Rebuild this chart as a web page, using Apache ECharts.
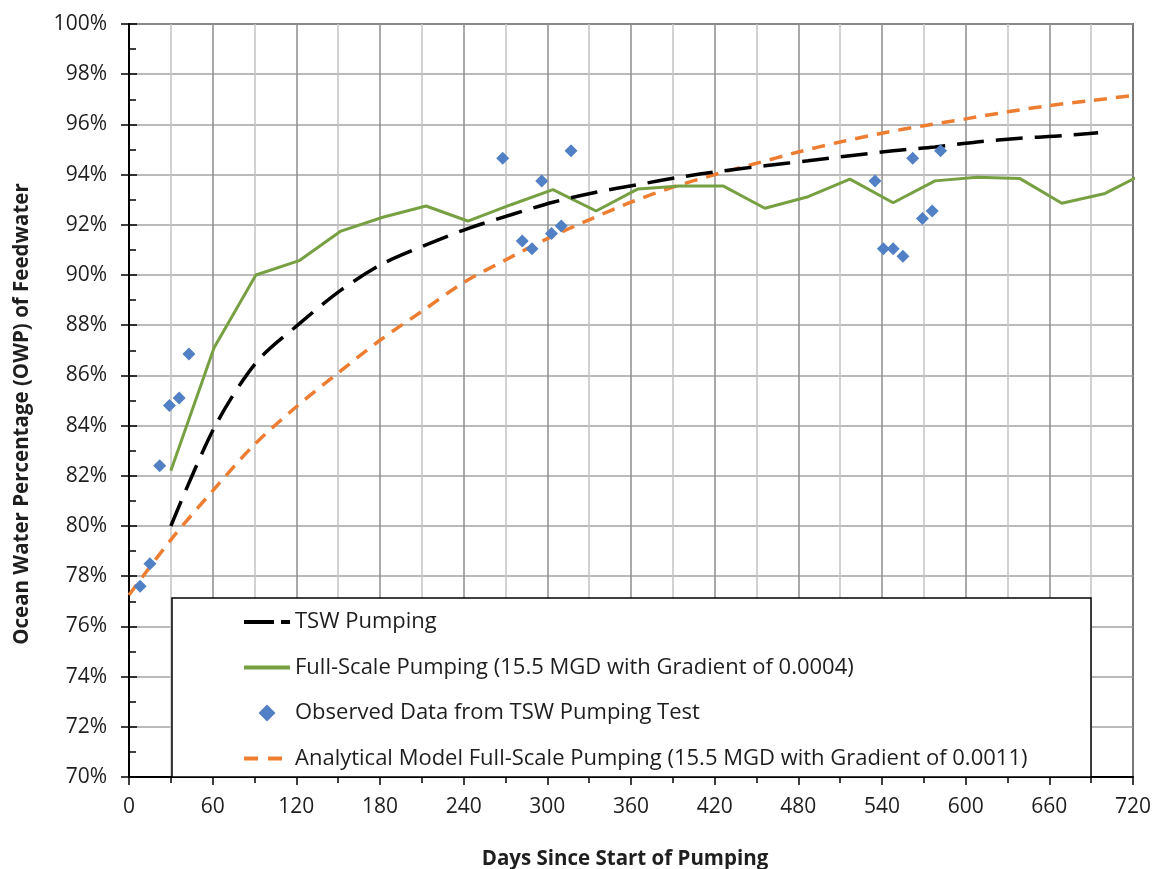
<!DOCTYPE html>
<html>
<head>
<meta charset="utf-8">
<title>Ocean Water Percentage of Feedwater</title>
<script src="https://cdn.jsdelivr.net/npm/echarts@6/dist/echarts.min.js"></script>
<style>
  html, body { margin: 0; padding: 0; background: #fff; }
  #chart { width: 1154px; height: 869px; }
</style>
</head>
<body>
<div id="chart"></div>
<script>
// Days since start of pumping / OWP (%) for each series
const tswDays = [30, 61, 91, 122, 152, 182, 213, 243, 274, 304, 335, 365, 395, 426, 456, 487, 517, 548, 578, 608, 639, 669, 695];
const tswOwp  = [80.0, 83.9, 86.5, 88.05, 89.4, 90.45, 91.2, 91.85, 92.4, 92.9, 93.3, 93.6, 93.9, 94.15, 94.35, 94.55, 94.75, 94.95, 95.1, 95.3, 95.45, 95.55, 95.67];

const fullDays = [30, 61, 91, 122, 152, 182, 213, 243, 274, 304, 335, 365, 395, 426, 456, 487, 517, 548, 578, 608, 639, 669, 700, 730];
const fullOwp  = [82.2, 87.1, 90.0, 90.57, 91.75, 92.3, 92.75, 92.15, 92.8, 93.4, 92.55, 93.43, 93.55, 93.55, 92.66, 93.12, 93.82, 92.88, 93.75, 93.89, 93.84, 92.86, 93.25, 94.1];

const obsDays = [8, 15, 22, 29, 36, 43, 268, 282, 289, 296, 303, 310, 317, 535, 541, 548, 555, 562, 569, 576, 582];
const obsOwp  = [77.6, 78.5, 82.4, 84.8, 85.1, 86.85, 94.65, 91.35, 91.05, 93.75, 91.65, 91.95, 94.95, 93.75, 91.05, 91.05, 90.75, 94.65, 92.25, 92.55, 94.95];

const anaDays = [0, 30, 60, 90, 120, 150, 180, 210, 240, 270, 300, 330, 360, 390, 420, 450, 480, 510, 540, 570, 600, 630, 660, 690, 720];
const anaOwp  = [77.25, 79.45, 81.4, 83.25, 84.75, 86.1, 87.4, 88.55, 89.7, 90.6, 91.45, 92.2, 92.9, 93.5, 94.0, 94.45, 94.9, 95.3, 95.65, 95.95, 96.22, 96.5, 96.75, 96.95, 97.15];

const seriesNames = [
  'TSW Pumping',
  'Full-Scale Pumping (15.5 MGD with Gradient of 0.0004)',
  'Observed Data from TSW Pumping Test',
  'Analytical Model Full-Scale Pumping (15.5 MGD with Gradient of 0.0011)'
];

const pairs = (xs, ys) => xs.map((x, i) => [x, ys[i]]);

const FONT = '"Open Sans", "DejaVu Sans", sans-serif';
const TEXT = '#1e1e1e';

const chart = echarts.init(document.getElementById('chart'));

chart.setOption({
  animation: false,
  backgroundColor: '#ffffff',
  textStyle: { fontFamily: FONT, color: TEXT },
  grid: {
    left: 129, right: 21, top: 24, bottom: 92,
    show: true, borderColor: '#000', borderWidth: 1.5, backgroundColor: 'transparent'
  },
  xAxis: {
    type: 'value', min: 0, max: 720, interval: 60,
    axisLine: { show: true, onZero: false, lineStyle: { color: '#000', width: 2 } },
    axisTick: { show: true, length: 8, lineStyle: { color: '#000', width: 1.5 } },
    minorTick: { show: true, splitNumber: 2, length: 6, lineStyle: { color: '#000', width: 1.5 } },
    axisLabel: { margin: 20, fontSize: 21, fontFamily: FONT, color: TEXT },
    splitLine: { show: true, lineStyle: { color: '#8c8c8c', width: 1.5 } },
    minorSplitLine: { show: true, lineStyle: { color: '#c4c4c4', width: 1.5 } }
  },
  yAxis: [
    {
      type: 'value', min: 70, max: 100, interval: 2,
      axisLine: { show: true, onZero: false, lineStyle: { color: '#000', width: 2 } },
      axisTick: { show: true, length: 8, lineStyle: { color: '#000', width: 1.5 } },
      axisLabel: { margin: 22, fontSize: 21, fontFamily: FONT, color: TEXT, formatter: '{value}%' },
      splitLine: { show: true, lineStyle: { color: '#a3a3a3', width: 1.5 } }
    },
    {
      // inner half of the crossing ticks plus the 1% minor ticks
      type: 'value', min: 70, max: 100, interval: 2, position: 'left',
      axisLine: { show: false },
      axisTick: { show: true, inside: true, length: 8, lineStyle: { color: '#000', width: 1.5 } },
      minorTick: { show: true, splitNumber: 2, length: 7, lineStyle: { color: '#000', width: 1.5 } },
      axisLabel: { show: false },
      splitLine: { show: false }
    }
  ],
  legend: {
    orient: 'vertical',
    left: 242, top: 611, padding: 0,
    itemWidth: 46, itemHeight: 17, itemGap: 23.5,
    symbolKeepAspect: true,
    z: 60,
    textStyle: { fontSize: 22, fontFamily: FONT, color: TEXT },
    data: [
      { name: seriesNames[0], itemStyle: { opacity: 0 }, lineStyle: { width: 4, type: [30, 7] } },
      { name: seriesNames[1], itemStyle: { opacity: 0 }, lineStyle: { width: 4 } },
      { name: seriesNames[2], icon: 'path://M0,7L7,0L14,7L7,14Z' },
      { name: seriesNames[3], itemStyle: { opacity: 0 }, lineStyle: { width: 4, type: [14, 10] } }
    ]
  },
  graphic: [
    {
      type: 'rect', z: 50,
      shape: { x: 172, y: 598, width: 919, height: 179 },
      style: { fill: '#fff', stroke: '#000', lineWidth: 1.5 }
    },
    {
      type: 'text', z: 50, x: 625, y: 859,
      style: { text: 'Days Since Start of Pumping', font: 'bold 20.5px ' + FONT, fill: TEXT, align: 'center', verticalAlign: 'middle' }
    },
    {
      type: 'text', z: 50, x: 22, y: 414, rotation: Math.PI / 2,
      style: { text: 'Ocean Water Percentage (OWP) of Feedwater', font: 'bold 20.5px ' + FONT, fill: TEXT, align: 'center', verticalAlign: 'middle' }
    }
  ],
  series: [
    {
      name: seriesNames[3], type: 'line', z: 3,
      data: pairs(anaDays, anaOwp), symbol: 'none', smooth: 0.3,
      lineStyle: { color: '#ED7D31', width: 3.5, type: [13, 9] },
      itemStyle: { color: '#ED7D31' }
    },
    {
      name: seriesNames[1], type: 'line', z: 4,
      data: pairs(fullDays, fullOwp), symbol: 'none',
      lineStyle: { color: '#77A043', width: 3 },
      itemStyle: { color: '#77A043' }
    },
    {
      name: seriesNames[0], type: 'line', z: 5,
      data: pairs(tswDays, tswOwp), symbol: 'none', smooth: 0.3,
      lineStyle: { color: '#000', width: 3.5, type: [27, 12] },
      itemStyle: { color: '#000' }
    },
    {
      name: seriesNames[2], type: 'scatter', z: 6,
      data: pairs(obsDays, obsOwp), symbol: 'diamond', symbolSize: 13,
      itemStyle: { color: '#5280C4', opacity: 1 }
    }
  ]
});
</script>
</body>
</html>
